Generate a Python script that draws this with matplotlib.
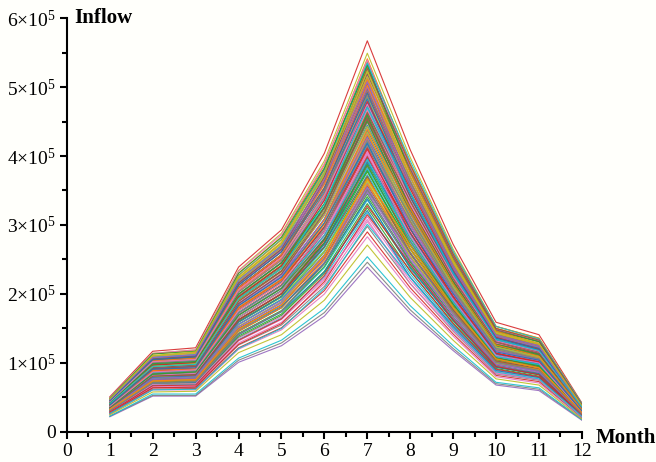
import matplotlib
matplotlib.use("Agg")
import matplotlib.pyplot as plt
from matplotlib.ticker import MultipleLocator, FuncFormatter

plt.rcParams['font.family'] = ['Liberation Serif', 'DejaVu Serif']
plt.rcParams['mathtext.fontset'] = 'custom'
plt.rcParams['mathtext.rm'] = 'Liberation Serif'
plt.rcParams['mathtext.it'] = 'Liberation Serif:italic'
plt.rcParams['mathtext.bf'] = 'Liberation Serif:bold'

months = list(range(1, 13))

# monthly inflow of each simulated series, in thousands
inflow_k = [
    [39, 91, 94, 180, 221, 303, 429, 310, 208, 122, 108, 32],
    [46, 105, 109, 210, 257, 355, 501, 363, 243, 142, 126, 38],
    [33, 77, 79, 156, 192, 261, 369, 265, 178, 103, 91, 26],
    [51, 117, 122, 239, 293, 404, 567, 409, 272, 159, 141, 42],
    [22, 52, 52, 101, 125, 168, 239, 172, 118, 68, 60, 17],
    [42, 97, 101, 193, 237, 326, 461, 333, 223, 131, 116, 35],
    [28, 65, 66, 129, 159, 215, 305, 220, 149, 86, 76, 22],
    [23, 53, 53, 104, 129, 173, 246, 177, 121, 70, 62, 18],
    [49, 114, 119, 234, 288, 393, 549, 398, 265, 153, 136, 40],
    [23, 55, 55, 107, 133, 179, 254, 183, 125, 72, 64, 18],
    [36, 84, 87, 166, 205, 281, 397, 287, 193, 113, 100, 30],
    [48, 110, 115, 221, 271, 374, 529, 383, 256, 150, 134, 40],
    [31, 72, 74, 146, 180, 245, 345, 248, 167, 97, 85, 25],
    [26, 62, 63, 122, 151, 205, 290, 209, 142, 82, 73, 21],
    [42, 98, 102, 205, 251, 344, 481, 346, 230, 134, 118, 34],
    [38, 88, 90, 173, 213, 292, 413, 299, 201, 117, 104, 31],
    [26, 61, 61, 120, 148, 200, 283, 204, 139, 80, 71, 20],
    [45, 104, 109, 218, 268, 367, 513, 370, 245, 142, 126, 37],
    [25, 58, 59, 115, 141, 191, 271, 195, 133, 77, 68, 19],
    [35, 81, 83, 160, 196, 269, 381, 275, 185, 108, 96, 28],
    [41, 94, 97, 186, 229, 315, 445, 321, 215, 126, 112, 33],
    [49, 113, 118, 224, 275, 380, 537, 389, 261, 153, 136, 41],
    [29, 68, 70, 137, 169, 230, 325, 233, 158, 92, 81, 23],
    [43, 100, 104, 210, 257, 353, 493, 356, 236, 137, 121, 35],
    [32, 75, 77, 153, 189, 256, 361, 259, 175, 101, 89, 26],
    [42, 97, 101, 200, 246, 336, 473, 340, 227, 132, 117, 34],
    [37, 86, 88, 170, 209, 286, 405, 293, 197, 115, 102, 30],
    [27, 64, 65, 126, 155, 211, 298, 215, 146, 84, 75, 21],
    [47, 109, 113, 218, 267, 369, 521, 378, 252, 147, 131, 39],
    [30, 70, 72, 142, 175, 238, 336, 241, 163, 94, 83, 24],
    [40, 92, 95, 183, 225, 309, 437, 316, 212, 124, 110, 33],
    [47, 110, 115, 230, 283, 387, 541, 388, 258, 150, 134, 39],
    [36, 83, 85, 163, 200, 275, 389, 281, 189, 111, 98, 29],
    [41, 95, 99, 190, 233, 320, 453, 327, 219, 128, 114, 34],
    [31, 74, 76, 150, 185, 251, 353, 254, 171, 99, 87, 25],
    [44, 103, 107, 215, 264, 361, 505, 362, 241, 140, 124, 36],
    [28, 66, 67, 132, 163, 221, 312, 225, 152, 88, 78, 22],
    [38, 89, 92, 176, 217, 298, 421, 304, 204, 119, 106, 31],
    [44, 101, 105, 203, 249, 343, 485, 348, 232, 135, 120, 35],
    [34, 79, 81, 156, 192, 263, 373, 270, 182, 106, 94, 28],
    [46, 108, 112, 227, 279, 381, 533, 382, 254, 148, 131, 38],
    [41, 95, 99, 197, 242, 331, 465, 334, 223, 130, 115, 33],
    [30, 70, 71, 139, 171, 233, 331, 239, 161, 94, 83, 24],
    [36, 84, 87, 173, 213, 291, 409, 294, 197, 114, 101, 29],
    [46, 106, 110, 213, 262, 360, 509, 368, 246, 144, 128, 38],
    [33, 76, 78, 150, 184, 252, 357, 258, 174, 102, 90, 26],
    [39, 90, 94, 187, 230, 314, 441, 317, 212, 123, 109, 32],
    [35, 82, 85, 166, 205, 279, 393, 283, 190, 110, 97, 28],
    [45, 106, 110, 223, 274, 376, 525, 377, 250, 145, 129, 37],
    [29, 68, 69, 134, 165, 225, 318, 229, 155, 90, 79, 23],
    [44, 100, 104, 199, 245, 338, 477, 345, 231, 136, 120, 36],
    [37, 87, 90, 181, 222, 302, 425, 305, 204, 118, 105, 30],
    [33, 78, 81, 160, 197, 268, 377, 271, 182, 105, 93, 27],
    [45, 104, 108, 208, 255, 352, 497, 357, 238, 138, 122, 36],
    [32, 74, 76, 146, 180, 246, 349, 252, 170, 99, 88, 26],
    [39, 91, 95, 191, 234, 320, 449, 323, 216, 125, 111, 32],
    [48, 110, 114, 216, 265, 366, 517, 371, 247, 144, 128, 38],
    [35, 83, 86, 170, 209, 285, 401, 288, 193, 112, 99, 29],
    [34, 78, 80, 153, 188, 257, 365, 264, 178, 104, 92, 27],
    [43, 99, 103, 196, 240, 331, 469, 339, 227, 133, 118, 35],
    [37, 86, 89, 177, 218, 297, 417, 300, 201, 117, 103, 30],
    [45, 103, 107, 205, 251, 346, 489, 354, 237, 139, 123, 37],
    [31, 73, 75, 143, 176, 240, 341, 246, 166, 96, 85, 25],
    [34, 80, 82, 163, 201, 273, 385, 277, 186, 108, 95, 28],
    [38, 89, 92, 184, 226, 308, 433, 311, 208, 121, 107, 31],
    [40, 93, 97, 194, 238, 326, 457, 328, 219, 127, 113, 33],
    [50, 114, 119, 233, 286, 389, 539, 382, 254, 148, 132, 39],
    [43, 98, 102, 199, 245, 341, 487, 358, 237, 139, 122, 37],
    [40, 94, 97, 190, 232, 314, 435, 307, 207, 120, 107, 31],
    [34, 78, 80, 156, 192, 267, 383, 283, 189, 110, 97, 29],
    [30, 71, 72, 141, 174, 232, 321, 224, 153, 89, 79, 22],
    [44, 101, 105, 206, 253, 353, 503, 370, 245, 143, 126, 38],
    [42, 97, 100, 196, 241, 326, 451, 318, 215, 125, 111, 32],
    [35, 81, 83, 162, 200, 278, 399, 295, 196, 114, 101, 30],
    [32, 76, 78, 152, 187, 251, 347, 243, 166, 96, 86, 25],
    [46, 104, 109, 213, 261, 364, 519, 381, 254, 148, 131, 39],
    [43, 100, 104, 203, 249, 337, 467, 330, 222, 129, 115, 33],
    [37, 84, 87, 169, 208, 290, 415, 306, 204, 119, 105, 31],
    [34, 80, 81, 159, 195, 262, 363, 255, 173, 100, 90, 26],
    [47, 108, 112, 220, 270, 376, 535, 393, 262, 153, 135, 41],
    [45, 103, 107, 210, 257, 349, 483, 341, 230, 134, 119, 35],
    [38, 87, 90, 176, 216, 301, 431, 318, 211, 123, 108, 33],
    [35, 83, 85, 166, 204, 274, 379, 266, 181, 105, 94, 27],
    [28, 64, 65, 127, 157, 218, 315, 234, 157, 91, 80, 24],
    [46, 107, 111, 216, 265, 360, 499, 353, 237, 138, 123, 36],
    [41, 93, 97, 189, 233, 324, 463, 341, 226, 132, 116, 35],
    [36, 82, 85, 166, 204, 284, 407, 300, 200, 117, 103, 31],
    [31, 71, 73, 142, 175, 244, 351, 260, 174, 101, 89, 26],
    [47, 110, 114, 223, 273, 372, 515, 364, 245, 143, 127, 37],
    [41, 95, 99, 193, 237, 320, 443, 312, 211, 123, 109, 32],
    [34, 79, 81, 159, 196, 272, 391, 289, 192, 112, 99, 30],
    [32, 73, 75, 146, 180, 249, 359, 266, 177, 103, 91, 27],
    [49, 113, 117, 230, 282, 383, 531, 376, 250, 146, 131, 38],
    [42, 97, 100, 196, 241, 336, 479, 352, 234, 137, 120, 36],
    [40, 92, 95, 186, 228, 308, 427, 301, 203, 118, 105, 30],
    [35, 81, 83, 162, 200, 268, 371, 260, 177, 103, 92, 26],
    [29, 69, 70, 136, 167, 223, 308, 215, 147, 85, 76, 22],
    [44, 100, 104, 203, 249, 347, 495, 364, 241, 141, 125, 38],
    [41, 95, 99, 193, 237, 320, 443, 312, 211, 123, 109, 32],
    [37, 86, 88, 173, 212, 285, 395, 278, 188, 109, 98, 28],
    [32, 74, 76, 148, 182, 244, 338, 237, 162, 94, 84, 24],
    [45, 103, 107, 209, 257, 359, 511, 376, 249, 146, 128, 39],
    [42, 99, 102, 200, 245, 331, 459, 324, 218, 127, 113, 33],
    [38, 89, 92, 179, 220, 297, 411, 289, 196, 114, 102, 29],
    [33, 78, 80, 156, 191, 257, 355, 249, 170, 98, 88, 25],
    [46, 106, 110, 216, 265, 370, 527, 387, 258, 150, 133, 40],
    [44, 102, 105, 206, 253, 343, 475, 336, 226, 132, 117, 34],
    [37, 85, 88, 172, 212, 295, 423, 312, 207, 121, 106, 32],
    [32, 74, 76, 149, 184, 255, 367, 271, 181, 106, 93, 28],
    [27, 61, 62, 121, 150, 208, 301, 224, 150, 87, 77, 23],
    [45, 105, 109, 213, 261, 354, 491, 347, 233, 136, 121, 35],
    [39, 89, 92, 179, 220, 307, 439, 324, 215, 126, 110, 33],
    [36, 84, 87, 169, 208, 280, 387, 272, 185, 107, 96, 28],
    [29, 67, 68, 133, 164, 227, 328, 243, 163, 95, 83, 25],
    [47, 108, 112, 220, 269, 366, 507, 359, 241, 140, 125, 36],
    [40, 92, 95, 186, 229, 318, 455, 335, 222, 130, 114, 35],
    [37, 87, 90, 176, 216, 291, 403, 284, 192, 111, 100, 29],
    [31, 71, 73, 142, 175, 244, 351, 260, 174, 101, 89, 26],
    [48, 111, 116, 226, 278, 377, 523, 370, 248, 144, 128, 38],
    [41, 95, 98, 193, 237, 330, 471, 347, 230, 134, 118, 36],
    [39, 91, 93, 183, 224, 303, 419, 295, 200, 116, 104, 30],
    [33, 74, 76, 149, 184, 255, 367, 271, 181, 106, 93, 28],
]

fig = plt.figure(figsize=(6.56, 4.62), dpi=100, facecolor='#fffffb')
ax = fig.add_axes([0.102, 0.065, 0.785, 0.896])
ax.set_facecolor('#fffffb')

for row in inflow_k:
    ax.plot(months, [v * 1000 for v in row], lw=0.8, alpha=0.9)

ax.set_xlim(0, 12)
ax.set_ylim(0, 6e5)

for side in ['top', 'right']:
    ax.spines[side].set_visible(False)
for side in ['left', 'bottom']:
    ax.spines[side].set_linewidth(1.5)

ax.xaxis.set_major_locator(MultipleLocator(1))
ax.xaxis.set_minor_locator(MultipleLocator(0.5))
ax.yaxis.set_major_locator(MultipleLocator(1e5))
ax.yaxis.set_minor_locator(MultipleLocator(0.5e5))


def sci_label(v, pos):
    n = int(round(v / 1e5))
    if n == 0:
        return '0'
    return '%d×10$^{5}$' % n


ax.yaxis.set_major_formatter(FuncFormatter(sci_label))
ax.tick_params(axis='both', which='major', direction='out', length=5, width=1.5,
               labelsize=14, colors='black')
ax.tick_params(axis='both', which='minor', direction='out', length=3.5, width=1.5)
ax.tick_params(axis='y', pad=3)
ax.tick_params(axis='x', pad=3)

fig.text(0.113, 0.961, 'Inflow', fontsize=15, fontweight='bold', va='center', ha='left')
fig.text(0.908, 0.053, 'Month', fontsize=15, fontweight='bold', va='center', ha='left')

fig.savefig('out.png', dpi=100, facecolor=fig.get_facecolor())
